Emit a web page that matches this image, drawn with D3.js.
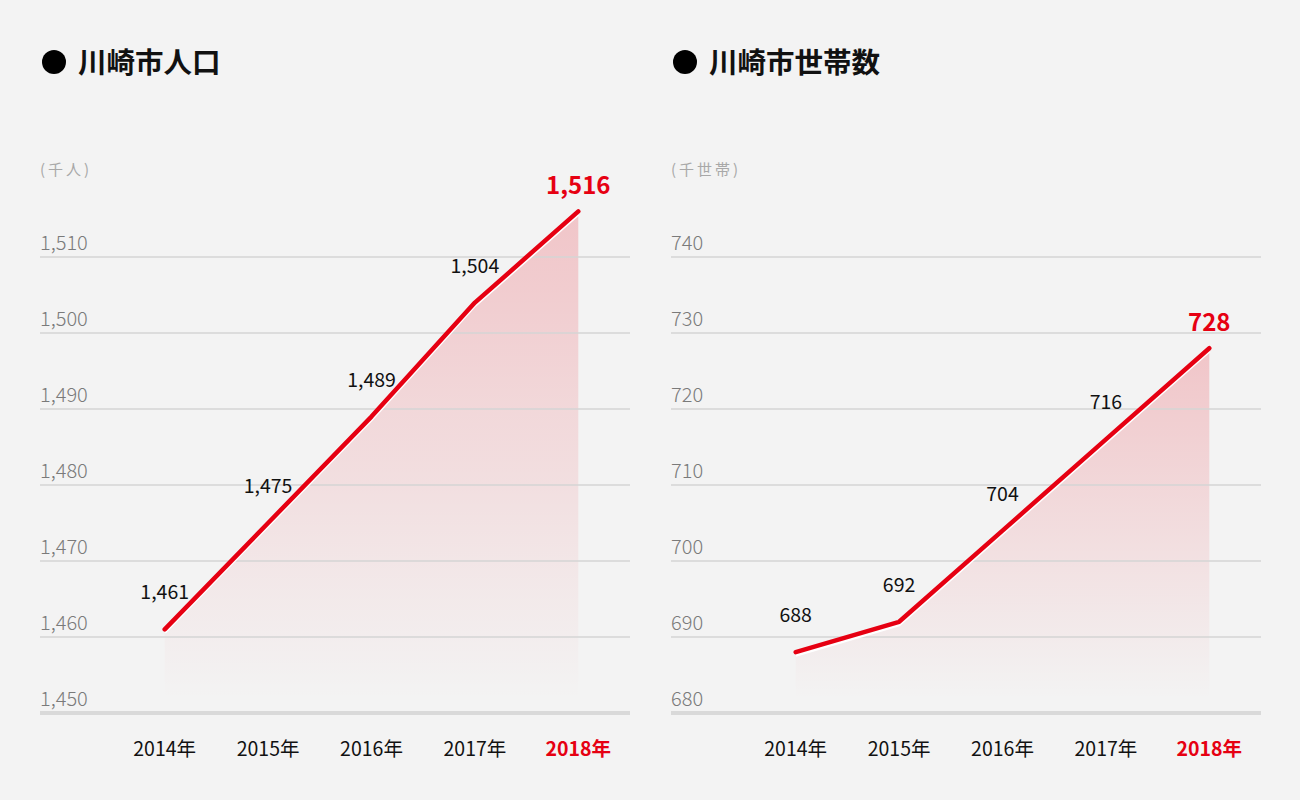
<!DOCTYPE html>
<html><head><meta charset="utf-8">
<script src="https://cdn.jsdelivr.net/npm/d3@7/dist/d3.min.js"></script>
<style>
html,body{margin:0;padding:0;background:#f3f3f3;}
svg{display:block;font-family:"Noto Sans CJK JP","Noto Sans",sans-serif;}
</style></head><body>
<svg id="c" width="1300" height="800"></svg>
<script>
const years = ["2014年","2015年","2016年","2017年","2018年"];
const population = [1461, 1475, 1489, 1504, 1516];
const households = [688, 692, 704, 716, 728];
const populationTicks = [1450, 1460, 1470, 1480, 1490, 1500, 1510];
const householdTicks = [680, 690, 700, 710, 720, 730, 740];
const titles = ["川崎市人口", "川崎市世帯数"];
const units = ["(千人)", "(千世帯)"];

const RED = "#e60012";
const svg = d3.select("#c");
const panels = [
  {title: titles[0], unit: units[0], values: population, ticks: populationTicks, ox: 0},
  {title: titles[1], unit: units[1], values: households, ticks: householdTicks, ox: 631}
];

panels.forEach((p, pi) => {
  const g = svg.append("g").attr("transform", `translate(${p.ox},0)`);
  const y = d3.scaleLinear().domain(d3.extent(p.ticks)).range([713, 257]);
  const x = d3.scaleBand().domain(years).range([113, 630]);
  const cx = d => x(d) + x.bandwidth() / 2;
  const pts = years.map((yr, i) => ({yr, v: p.values[i]}));

  // title
  g.append("circle").attr("cx", 54).attr("cy", 62).attr("r", 12).attr("fill", "#000");
  g.append("text").attr("x", 78).attr("y", 73).attr("font-size", 28.5).attr("font-weight", 700)
    .attr("fill", "#111").text(p.title);
  g.append("text").attr("x", 40).attr("y", 175).attr("font-size", 15).attr("fill", "#a8a8a8")
    .attr("letter-spacing", 3).text(p.unit);

  // gradient
  const gid = "grad" + pi;
  const top = y(d3.max(p.values));
  const grad = svg.append("defs").append("linearGradient").attr("id", gid)
    .attr("gradientUnits", "userSpaceOnUse").attr("x1", 0).attr("x2", 0)
    .attr("y1", top).attr("y2", 700);
  grad.append("stop").attr("offset", 0).attr("stop-color", RED).attr("stop-opacity", 0.19);
  grad.append("stop").attr("offset", 1).attr("stop-color", RED).attr("stop-opacity", 0);

  const area = d3.area().x(d => cx(d.yr)).y0(700).y1(d => y(d.v));
  g.append("path").datum(pts).attr("d", area).attr("fill", `url(#${gid})`);

  // grid
  const ymin = d3.min(p.ticks);
  g.selectAll(".grid").data(p.ticks.filter(t => t !== ymin)).enter().append("line")
    .attr("x1", 40).attr("x2", 630).attr("y1", d => y(d)).attr("y2", d => y(d))
    .attr("stroke", "#d4d4d4").attr("stroke-width", 1.5);
  g.append("line").attr("x1", 40).attr("x2", 630).attr("y1", y(ymin)).attr("y2", y(ymin))
    .attr("stroke", "#d9d9d9").attr("stroke-width", 4);

  // tick labels
  const fmt = d3.format(",");
  g.selectAll(".tick").data(p.ticks).enter().append("text")
    .attr("x", 40).attr("y", d => y(d) - 7).attr("font-size", 20).attr("font-weight", 300)
    .attr("fill", "#7a7a7a").text(d => fmt(d));

  // lines
  const line = d3.line().x(d => cx(d.yr)).y(d => y(d.v));
  g.append("path").datum(pts).attr("d", line).attr("transform", "translate(0,3)")
    .attr("fill", "none").attr("stroke", "#fff").attr("stroke-width", 3);
  g.append("path").datum(pts).attr("d", line).attr("fill", "none")
    .attr("stroke", RED).attr("stroke-width", 4.5).attr("stroke-linecap", "round")
    .attr("stroke-linejoin", "round");

  // value labels
  const last = years.length - 1;
  g.selectAll(".val").data(pts).enter().append("text")
    .attr("x", d => cx(d.yr)).attr("y", (d, i) => y(d.v) - (i === last ? 17 : 30))
    .attr("text-anchor", "middle")
    .attr("font-size", (d, i) => i === last ? 24 : 19.5)
    .attr("font-weight", (d, i) => i === last ? 700 : 400)
    .attr("fill", (d, i) => i === last ? RED : "#111")
    .text(d => fmt(d.v));

  // x labels
  g.selectAll(".xl").data(years).enter().append("text")
    .attr("x", d => cx(d)).attr("y", 756).attr("text-anchor", "middle")
    .attr("font-size", 19.5)
    .attr("font-weight", (d, i) => i === last ? 700 : 400)
    .attr("fill", (d, i) => i === last ? RED : "#111")
    .text(d => d);
});
</script>
</body></html>
